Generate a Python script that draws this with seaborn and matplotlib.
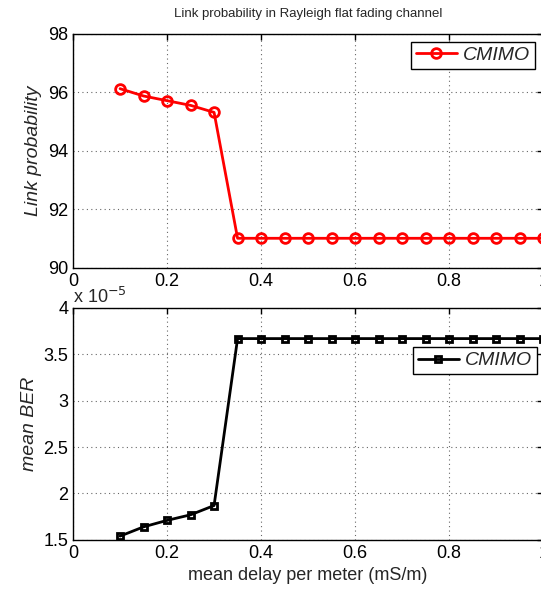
import numpy as np
import matplotlib
matplotlib.use("Agg")
import matplotlib.pyplot as plt
from matplotlib.ticker import FuncFormatter
import seaborn as sns

# data
delay = [0.1, 0.15, 0.2, 0.25, 0.3, 0.35, 0.4, 0.45, 0.5, 0.55,
         0.6, 0.65, 0.7, 0.75, 0.8, 0.85, 0.9, 0.95, 1.0]
link_prob = [96.12, 95.87, 95.71, 95.55, 95.31, 91.01, 91.01, 91.01, 91.01, 91.01,
             91.01, 91.01, 91.01, 91.01, 91.01, 91.01, 91.01, 91.01, 91.01]
# mean BER in units of 1e-5
mean_ber = [1.54, 1.64, 1.71, 1.77, 1.87, 3.67, 3.67, 3.67, 3.67, 3.67,
            3.67, 3.67, 3.67, 3.67, 3.67, 3.67, 3.67, 3.67, 3.67]
x_ticks = [0, 0.2, 0.4, 0.6, 0.8, 1]
link_ticks = [90, 92, 94, 96, 98]
ber_ticks = [1.5, 2, 2.5, 3, 3.5, 4]

sns.set_style("white")
plt.rcParams['font.family'] = ['Liberation Sans', 'DejaVu Sans']

fig = plt.figure(figsize=(5.41, 5.9), dpi=100)
ax1 = fig.add_axes([0.135, 0.546, 0.869, 0.397])
ax2 = fig.add_axes([0.135, 0.085, 0.869, 0.393])

fmt = FuncFormatter(lambda v, p: "%g" % v)
leg_kw = dict(prop={'style': 'italic', 'size': 14}, handlelength=2.1,
              handletextpad=0.3, fancybox=False, edgecolor='black',
              framealpha=1, borderaxespad=0, borderpad=0.25)

# top: link probability
sns.lineplot(x=delay, y=link_prob, ax=ax1, color='red', linewidth=2,
             marker='o', markersize=7, markerfacecolor='none',
             markeredgecolor='red', markeredgewidth=2, label='CMIMO')
ax1.set_xlim(0, 1)
ax1.set_ylim(90, 98)
ax1.set_yticks(link_ticks)
ax1.set_ylabel("Link probability", fontsize=14, style='italic')
ax1.set_title("Link probability in Rayleigh flat fading channel", fontsize=9.5, pad=12)
ax1.legend(loc='upper right', bbox_to_anchor=(0.982, 0.966), **leg_kw)

# bottom: mean BER
sns.lineplot(x=delay, y=mean_ber, ax=ax2, color='black', linewidth=2,
             marker='s', markersize=5, markerfacecolor='none',
             markeredgecolor='black', markeredgewidth=2, label='CMIMO')
ax2.set_xlim(0, 1)
ax2.set_ylim(1.5, 4)
ax2.set_yticks(ber_ticks)
ax2.set_ylabel("mean BER", fontsize=14, style='italic')
ax2.set_xlabel("mean delay per meter (mS/m)", fontsize=13)
ax2.text(0.0, 1.005, r"x 10$^{-5}$", transform=ax2.transAxes, fontsize=13,
         ha='left', va='bottom')
ax2.legend(loc='upper right', bbox_to_anchor=(0.986, 0.832), **leg_kw)

for ax in (ax1, ax2):
    ax.set_xticks(x_ticks)
    ax.xaxis.set_major_formatter(fmt)
    ax.yaxis.set_major_formatter(fmt)
    ax.tick_params(direction='in', top=True, right=True, labelsize=13,
                   length=4, width=1, colors='black')
    ax.grid(True, linestyle=(0, (1, 3)), color='black', linewidth=0.8, alpha=0.6)
    for s in ax.spines.values():
        s.set_color('black')
        s.set_linewidth(1)

fig.savefig("out.png", dpi=100)
